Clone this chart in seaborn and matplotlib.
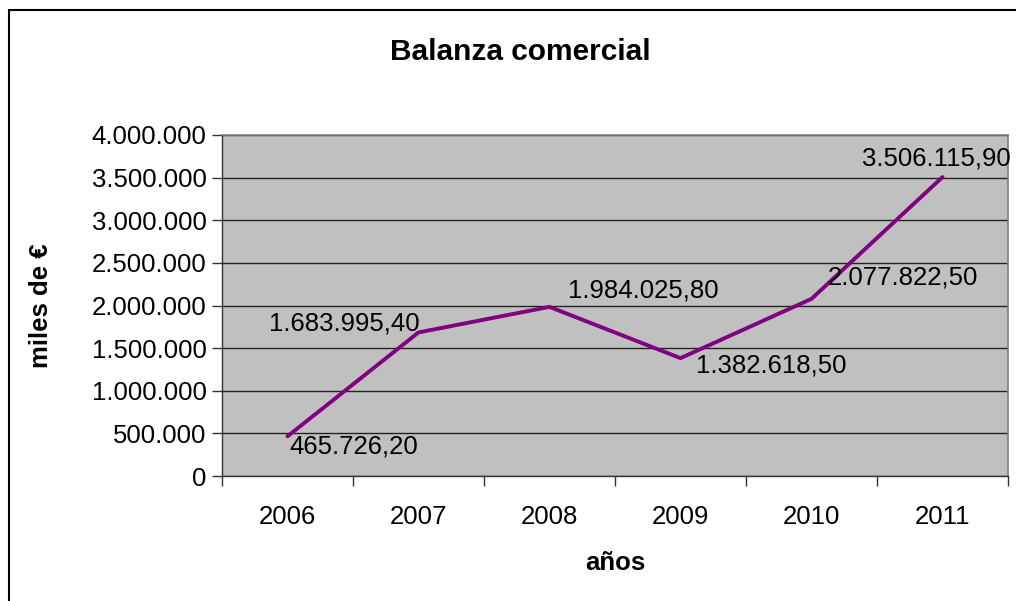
import matplotlib
matplotlib.use('Agg')
import matplotlib.pyplot as plt
import matplotlib.lines as mlines
import seaborn as sns
import pandas as pd

# data
years = ['2006', '2007', '2008', '2009', '2010', '2011']
balance = [465726.20, 1683995.40, 1984025.80, 1382618.50, 2077822.50, 3506115.90]
point_labels = ['465.726,20', '1.683.995,40', '1.984.025,80', '1.382.618,50', '2.077.822,50', '3.506.115,90']
y_ticks = [0, 500000, 1000000, 1500000, 2000000, 2500000, 3000000, 3500000, 4000000]

# label placement (pixel offsets from the point, alignment)
label_offsets = [(2, -10, 'left'), (1, 9, 'right'), (18, 16, 'left'),
                 (16, -7, 'left'), (16, 21, 'left'), (-6, 19, 'center')]

sns.set_style('white')
plt.rcParams['font.family'] = ['Liberation Sans', 'DejaVu Sans']
plt.rcParams['text.color'] = 'black'
plt.rcParams['axes.labelcolor'] = 'black'
plt.rcParams['xtick.color'] = 'black'
plt.rcParams['ytick.color'] = 'black'

df = pd.DataFrame({'pos': range(len(years)), 'valor': balance})

fig = plt.figure(figsize=(10.16, 6.01), dpi=100)
ax = fig.add_axes([222 / 1016, 1 - 476 / 601, (1008 - 222) / 1016, (476 - 135) / 601])
ax.set_facecolor('#C0C0C0')

sns.lineplot(data=df, x='pos', y='valor', color='#800080', linewidth=2.8, ax=ax, zorder=3)

ax.set_xlim(-0.5, len(years) - 0.5)
ax.set_ylim(0, 4000000)

# y axis
ax.set_yticks(y_ticks)
ax.set_yticklabels([f'{v:,}'.replace(',', '.') for v in y_ticks], fontsize=18.5)
ax.yaxis.grid(True, color='#222222', linewidth=1)
ax.set_axisbelow(True)

# x axis: ticks on category boundaries, labels at category centres
ax.set_xticks([i - 0.5 for i in range(len(years) + 1)])
ax.set_xticklabels([])
ax.set_xticks(list(range(len(years))), minor=True)
ax.set_xticklabels(years, minor=True, fontsize=18.5)
ax.tick_params(axis='x', which='minor', length=0, pad=21)
ax.tick_params(axis='x', which='major', length=7, width=1, color='#333333', direction='out', bottom=True)
ax.tick_params(axis='y', length=7, width=1, color='#333333', direction='out', left=True, pad=4)

for side in ['left', 'bottom']:
    ax.spines[side].set_color('#333333')
    ax.spines[side].set_linewidth(1)
for side in ['top', 'right']:
    ax.spines[side].set_color('#808080')
    ax.spines[side].set_linewidth(1.2)

# data labels
for i, (val, txt) in enumerate(zip(balance, point_labels)):
    dx, dy, ha = label_offsets[i]
    ax.annotate(txt, (i, val), xytext=(dx, dy), textcoords='offset pixels',
                ha=ha, va='center', fontsize=18.5, color='black', zorder=4)

ax.set_xlabel('años', fontsize=18.5, fontweight='bold', labelpad=16)
ax.set_ylabel('miles de €', fontsize=18.5, fontweight='bold', labelpad=28)
fig.text(520 / 1016, 1 - 52 / 601, 'Balanza comercial', fontsize=21.5, fontweight='bold',
         ha='center', va='center')

# outer chart frame (left and top edges visible)
fig.add_artist(mlines.Line2D([9 / 1016, 9 / 1016], [0, 1 - 10 / 601], color='black', linewidth=1.5,
                             transform=fig.transFigure))
fig.add_artist(mlines.Line2D([9 / 1016, 1], [1 - 10 / 601, 1 - 10 / 601], color='black', linewidth=1.5,
                             transform=fig.transFigure))

plt.savefig('out.png', dpi=100, facecolor='white')
